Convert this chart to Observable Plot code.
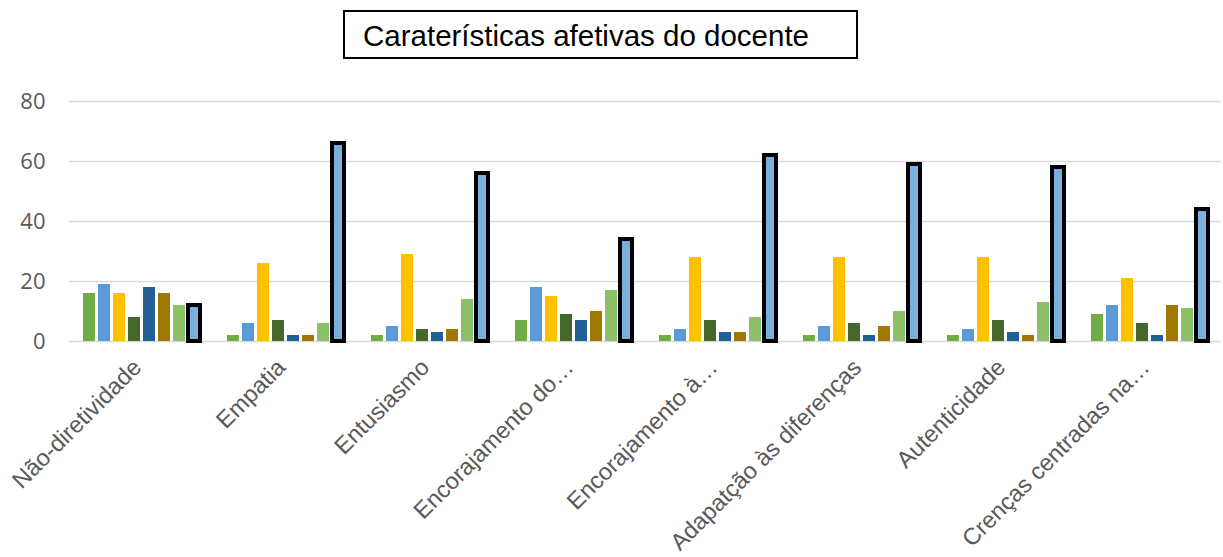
<!DOCTYPE html>
<html>
<head>
<meta charset="utf-8">
<script src="https://cdn.jsdelivr.net/npm/d3@7"></script>
<script src="https://cdn.jsdelivr.net/npm/@observablehq/plot@0.6"></script>
<style>
  html, body { margin: 0; padding: 0; background: #fff; }
  #head { position: relative; width: 1223px; height: 70px; }
  #title {
    position: absolute; left: 343px; top: 10px; width: 511px; height: 45px;
    border: 2px solid #000; box-sizing: content-box;
    font-family: "Liberation Sans", Arial, sans-serif; font-size: 29.5px; color: #000;
    line-height: 47px; padding-left: 0; text-indent: 18px; white-space: nowrap;
  }
</style>
</head>
<body>
<div id="head"><div id="title">Caraterísticas afetivas do docente</div></div>
<div id="chart"></div>
<script>
const categories = [
  "Não-diretividade",
  "Empatia",
  "Entusiasmo",
  "Encorajamento do…",
  "Encorajamento à…",
  "Adapatção às diferenças",
  "Autenticidade",
  "Crenças centradas na…"
];
const seriesNames = ["S1", "S2", "S3", "S4", "S5", "S6", "S7", "S8"];
const seriesColors = ["#70AD47", "#5B9BD5", "#FFC000", "#43682B", "#255E91", "#9E7800", "#8CC168", "#7CAFDD"];
const s1 = [16, 2, 2, 7, 2, 2, 2, 9];
const s2 = [19, 6, 5, 18, 4, 5, 4, 12];
const s3 = [16, 26, 29, 15, 28, 28, 28, 21];
const s4 = [8, 7, 4, 9, 7, 6, 7, 6];
const s5 = [18, 2, 3, 7, 3, 2, 3, 2];
const s6 = [16, 2, 4, 10, 3, 5, 2, 12];
const s7 = [12, 6, 14, 17, 8, 10, 13, 11];
const s8 = [12, 66, 56, 34, 62, 59, 58, 44];
const yTicks = [0, 20, 40, 60, 80];

const seriesValues = [s1, s2, s3, s4, s5, s6, s7, s8];
const data = categories.flatMap((c, i) =>
  seriesNames.map((s, j) => ({cat: c, series: s, value: seriesValues[j][i]}))
);
const highlighted = seriesNames[seriesNames.length - 1];

const chart = Plot.plot({
  width: 1223,
  height: 487,
  marginTop: 31,
  marginBottom: 216,
  marginLeft: 67,
  marginRight: 1,
  style: {background: "#fff", color: "#595959"},
  fx: {domain: categories, padding: 0, label: null},
  x: {domain: seriesNames, paddingInner: 0.2, paddingOuter: 0.82, axis: null},
  y: {domain: [0, 80], label: null},
  color: {domain: seriesNames, range: seriesColors},
  marks: [
    Plot.ruleY(yTicks, {stroke: "#d9d9d9", strokeWidth: 1.5}),
    Plot.barY(data.filter(d => d.series !== highlighted), {fx: "cat", x: "series", y: "value", fill: "series"}),
    Plot.barY(data.filter(d => d.series === highlighted), {fx: "cat", x: "series", y: "value", fill: "series", stroke: "#000", strokeWidth: 4}),
    Plot.axisY(yTicks, {tickSize: 0, tickPadding: 24, fontSize: 22, fontFamily: "'Open Sans', sans-serif", fill: "#595959", label: null}),
    Plot.axisFx({anchor: "bottom", tickRotate: -45, tickSize: 0, tickPadding: 22, dx: -4, fontSize: 23.5, fontFamily: "'Liberation Sans', Arial, sans-serif", fill: "#595959", label: null, lineWidth: Infinity})
  ]
});
document.getElementById("chart").appendChild(chart);
</script>
</body>
</html>
